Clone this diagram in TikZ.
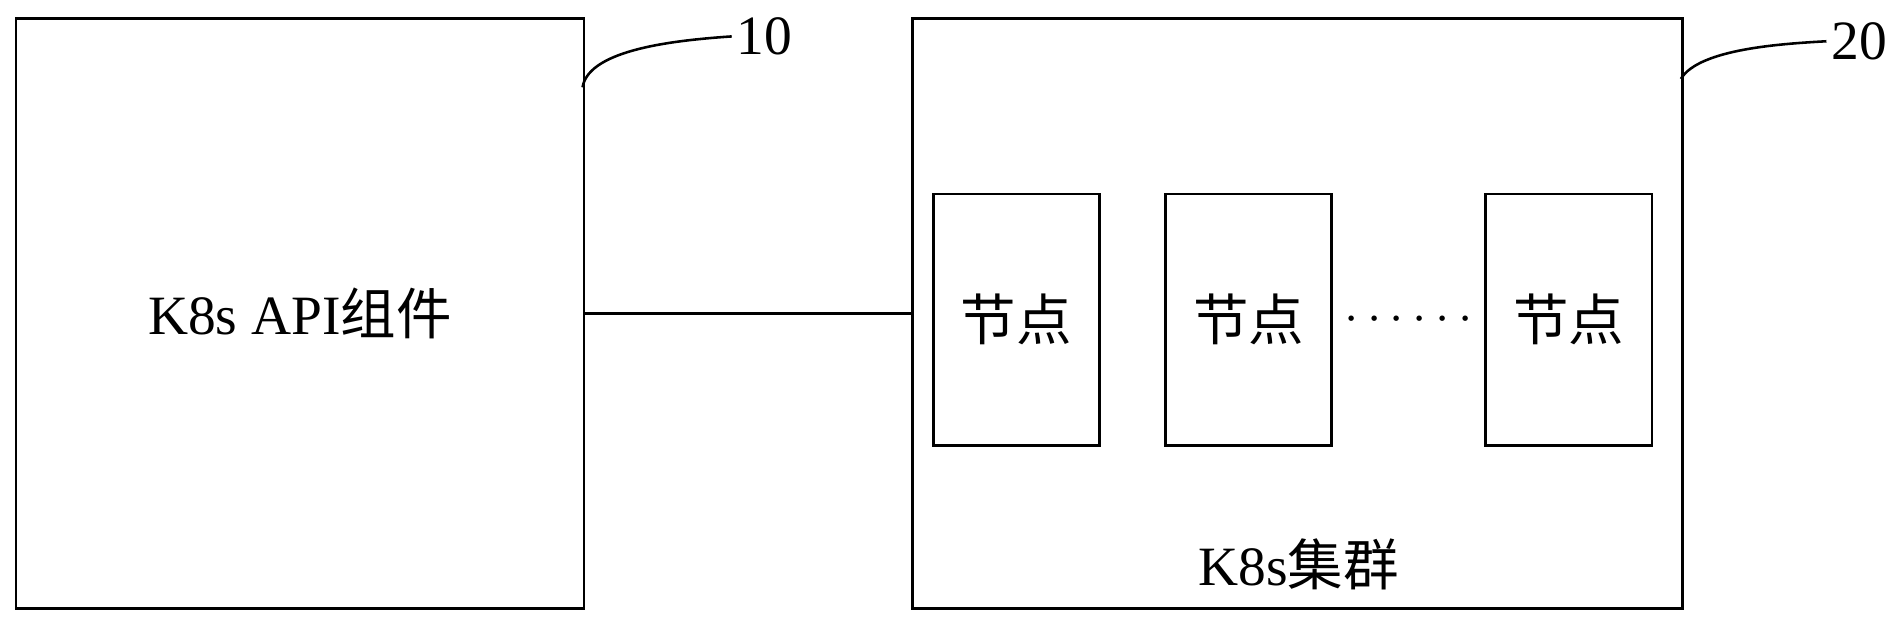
\documentclass[tikz,border=0pt]{standalone}
\usepackage{fontspec}
\setmainfont{Liberation Serif}
\newfontfamily\cjk{Noto Sans CJK SC}
\usetikzlibrary{positioning,calc}
\tikzset{
  blockbox/.style={draw, line width=0.6pt, anchor=north west, inner sep=0pt},
  nodebox/.style={draw, line width=0.6pt, minimum width=1.37cm, minimum height=2.07cm, font=\fontsize{13}{15}\selectfont\cjk},
  reflabel/.style={font=\fontsize{13}{15}\selectfont, inner sep=1pt}
}
\begin{document}
\begin{tikzpicture}[x=0.01cm, y=-0.01cm]
  \useasboundingbox (0,0) rectangle (1568,513);
  \node[blockbox, minimum width=4.68cm, minimum height=4.86cm] (api) at (12,14) {};
  \node[font=\fontsize{13}{15}\selectfont] at (api.center) {K8s API{\cjk 组件}};
  \node[blockbox, minimum width=6.34cm, minimum height=4.86cm] (cluster) at (751,14) {};
  \node[nodebox] (n1) at (837.5,263.5) {节点};
  \node[nodebox, right=0.52cm of n1] (n2) {节点};
  \node[nodebox] (n3) at (1292.5,263.5) {节点};
  \node (dots) at ($(n2)!0.5!(n3)$) {\fontsize{13}{15}\selectfont$\cdots\cdots$};
  \node[font=\fontsize{13}{15}\selectfont] (ctext) at (1070,465) {K8s{\cjk 集群}};
  \draw[line width=0.6pt] (api.east) -- (cluster.west);
  % reference numerals
  \node[reflabel] (l10) at (630,30) {10};
  \node[reflabel] (l20) at (1532,34) {20};
  \draw[line width=0.6pt] (480,72) .. controls (485,40) and (560,33) .. (l10.west);
  \draw[line width=0.6pt] (1385,65) .. controls (1400,40) and (1470,36) .. (l20.west);
\end{tikzpicture}
\end{document}
